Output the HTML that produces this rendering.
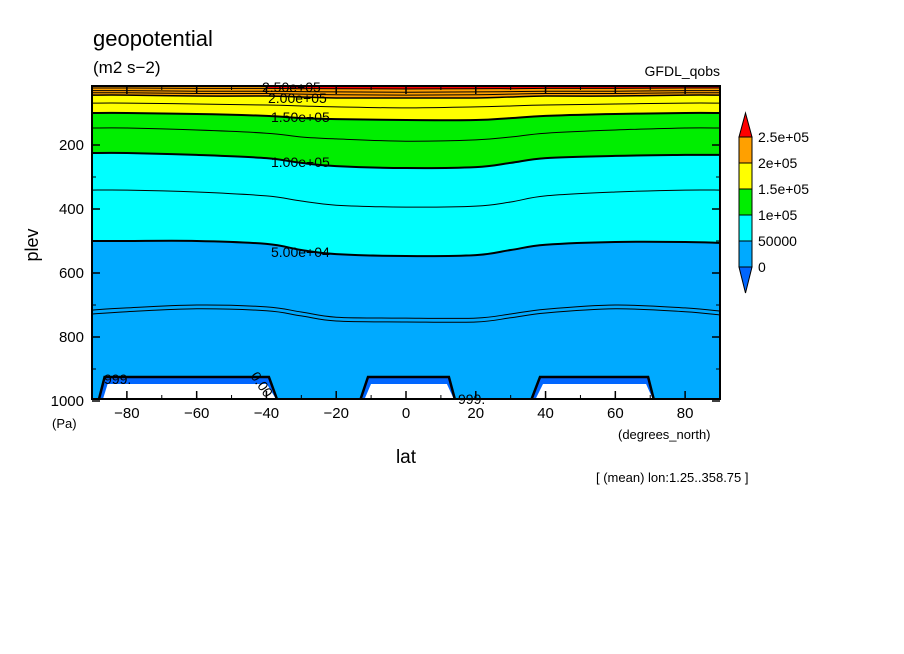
<!DOCTYPE html>
<html><head><meta charset="utf-8"><style>
body{margin:0;background:#fff;}
svg{display:block;font-family:"Liberation Sans",sans-serif;}
</style></head><body>
<svg id="chart" width="904" height="654" viewBox="0 0 904 654">
<text x="93" y="46" font-size="22">geopotential</text>
<text x="93" y="73" font-size="17">(m2 s−2)</text>
<text x="720" y="76" font-size="14" text-anchor="end">GFDL_qobs</text>
<g id="plot"></g>
<g id="axes"></g>
<text transform="translate(38,245) rotate(-90)" font-size="18" text-anchor="middle">plev</text>
<text x="52" y="428" font-size="13">(Pa)</text>
<text x="406" y="463" font-size="19" text-anchor="middle">lat</text>
<text x="618" y="439" font-size="13">(degrees_north)</text>
<text x="596" y="482" font-size="13">[ (mean) lon:1.25..358.75 ]</text>
<g id="cbar"></g>
</svg>
<script>
const lats = [-90,-80,-60,-40,-30,-20,0,20,30,40,60,80,90];
const c237k = [22,22,23,23,24,24,25,24,24,23,23,22,22];
const c225k = [30,30,32,32,33,34,35,34,33,32,32,30,30];
const c212k = [37,37,39,39,41,43,44,43,41,39,39,37,37];
const c200k = [44,44,47,47,50,53,53,53,50,47,47,44,44];
const c175k = [69,69,72,75,78,81,84,81,78,75,72,69,69];
const c150k = [100,100,103,109,116,119,122,122,116,109,103,100,100];
const c125k = [147,147,153,163,175,181,188,184,175,163,153,147,147];
const c100k = [225,225,231,241,256,266,272,269,256,241,234,231,231];
const c75k = [341,341,347,359,375,388,394,391,378,359,347,341,341];
const c50k = [500,500,500,509,528,541,547,544,528,512,503,503,506];
const c25kA = [716,709,700,706,722,738,741,741,728,713,700,709,719];
const c25kB = [728,721,712,718,734,750,753,753,740,725,712,721,731];
const maskTopLat = [[-86.4,-39.3],[-10.9,12.3],[38.4,69.4]];
const maskBotLat = [[-88,-37],[-13,14],[36,71]];
const maskTopP = 925;
const xTicks = [-80,-60,-40,-20,0,20,40,60,80];
const yTicks = [200,400,600,800,1000];
const cbLabels = ["2.5e+05","2e+05","1.5e+05","1e+05","50000","0"];
const cbColors = ["#ff0000","#ffa000","#ffff00","#00ee00","#00ffff","#00aaff","#0066ff"];

const X0=92,X1=720,Y0=86,Y1=399;
const x = l => X0 + (l+90)*(X1-X0)/180;
const y = p => 145 + (p-200)*0.32;
const NS="http://www.w3.org/2000/svg";
const plot=document.getElementById('plot'), axes=document.getElementById('axes'), cb=document.getElementById('cbar');
function mk(tag,attrs,parent){const e=document.createElementNS(NS,tag);for(const k in attrs)e.setAttribute(k,attrs[k]);parent.appendChild(e);return e;}
function smoothPath(arr){
  const P=lats.map((l,i)=>[x(l),y(arr[i])]);
  let d="M"+P[0][0].toFixed(1)+","+P[0][1].toFixed(1);
  for(let i=0;i<P.length-1;i++){
    const p0=P[Math.max(0,i-1)],p1=P[i],p2=P[i+1],p3=P[Math.min(P.length-1,i+2)];
    const c1=[p1[0]+(p2[0]-p0[0])/6,p1[1]+(p2[1]-p0[1])/6];
    const c2=[p2[0]-(p3[0]-p1[0])/6,p2[1]-(p3[1]-p1[1])/6];
    d+=" C"+c1.map(v=>v.toFixed(1)).join(",")+" "+c2.map(v=>v.toFixed(1)).join(",")+" "+p2.map(v=>v.toFixed(1)).join(",");
  }
  return d;
}
function band(arr,color,name){
  const d=smoothPath(arr)+" L"+X1+","+Y0+" L"+X0+","+Y0+" Z";
  const e=mk('path',{d:d,fill:color},plot);
  
  
}
const bg=mk('rect',{x:X0,y:Y0,width:X1-X0,height:Y1-Y0,fill:"#00aaff"},plot);


band(c50k,"#00ffff","band-50000-1e5");
band(c100k,"#00ee00","band-1e5-1.5e5");
band(c150k,"#ffff00","band-1.5e5-2e5");
band(c200k,"#ffa000","band-2e5-2.5e5");
const red=mk('line',{x1:x(-40),y1:Y0+1.5,x2:X1,y2:Y0+1.5,stroke:"#ff0000","stroke-width":2},plot);


const contours=[[c237k,1],[c225k,1],[c212k,1],[c200k,1.5],[c175k,1],[c150k,2],[c125k,1],[c100k,2],[c75k,1],[c50k,2],[c25kA,1],[c25kB,1]];
contours.forEach((c,i)=>{
  const e=mk('path',{d:smoothPath(c[0]),fill:"none",stroke:"#000","stroke-width":c[1]},plot);
  
  
});
maskTopLat.forEach((t,i)=>{
  const b=maskBotLat[i];
  const pts=[[x(b[0]),Y1],[x(t[0]),y(maskTopP)],[x(t[1]),y(maskTopP)],[x(b[1]),Y1]];
  const s=pts.map(p=>p[0].toFixed(1)+","+p[1].toFixed(1)).join(" ");
  const d=mk('polygon',{points:s,fill:"#0066ff"},plot);
  
  
  const w=[[x(b[0])+4,Y1],[x(t[0])+3,y(maskTopP)+7],[x(t[1])-2,y(maskTopP)+7],[x(b[1])-1,Y1]].map(p=>p[0].toFixed(1)+","+p[1].toFixed(1)).join(" ");
  const m=mk('polygon',{points:w,fill:"#fff"},plot);
  
  
  const o=mk('polyline',{points:s,fill:"none",stroke:"#000","stroke-width":2.5},plot);
  
  
});
[["2.50e+05",262,92],["2.00e+05",268,103],["1.50e+05",271,122],["1.00e+05",271,167],["5.00e+04",271,257],["999.",104,384],["999.",458,404]].forEach(a=>{
  const t=mk('text',{x:a[1],y:a[2],"font-size":14},plot);t.textContent=a[0];
  
  
});
const z=mk('text',{transform:"translate(250,376) rotate(55)","font-size":14},plot);z.textContent="0.00";


const fr=mk('rect',{x:X0,y:Y0,width:X1-X0,height:Y1-Y0,fill:"none",stroke:"#000","stroke-width":2},axes);


for(let v=-90;v<=90;v+=10){
  mk('line',{x1:x(v),y1:Y1,x2:x(v),y2:Y1-4,stroke:"#000","stroke-width":1},axes);
  mk('line',{x1:x(v),y1:Y0,x2:x(v),y2:Y0+4,stroke:"#000","stroke-width":1},axes);
}
for(let v=100;v<=1000;v+=100){
  mk('line',{x1:X0,y1:y(v),x2:X0+4,y2:y(v),stroke:"#000","stroke-width":1},axes);
  mk('line',{x1:X1,y1:y(v),x2:X1-4,y2:y(v),stroke:"#000","stroke-width":1},axes);
}
xTicks.forEach(v=>{
  mk('line',{x1:x(v),y1:Y1,x2:x(v),y2:Y1-8,stroke:"#000","stroke-width":1.5},axes);
  mk('line',{x1:x(v),y1:Y0,x2:x(v),y2:Y0+8,stroke:"#000","stroke-width":1.5},axes);
  const t=mk('text',{x:x(v),y:418,"font-size":15,"text-anchor":"middle"},axes);
  t.textContent=v<0?"−"+(-v):v;
  
  
});
yTicks.forEach(v=>{
  mk('line',{x1:X0,y1:y(v),x2:X0+8,y2:y(v),stroke:"#000","stroke-width":1.5},axes);
  mk('line',{x1:X1,y1:y(v),x2:X1-8,y2:y(v),stroke:"#000","stroke-width":1.5},axes);
  const t=mk('text',{x:84,y:y(v)+5,"font-size":15,"text-anchor":"end"},axes);
  t.textContent=v;
  
  
});
const cx=739,cw=13,ch=26,ct=137;
mk('polygon',{points:`${cx},${ct} ${cx+cw/2},${ct-24} ${cx+cw},${ct}`,fill:cbColors[0],stroke:"#000"},cb);
for(let i=1;i<=5;i++) mk('rect',{x:cx,y:ct+(i-1)*ch,width:cw,height:ch,fill:cbColors[i],stroke:"#000"},cb);
const cbot=ct+5*ch;
mk('polygon',{points:`${cx},${cbot} ${cx+cw/2},${cbot+26} ${cx+cw},${cbot}`,fill:cbColors[6],stroke:"#000"},cb);
cbLabels.forEach((s,i)=>{
  const t=mk('text',{x:758,y:ct+i*ch+5,"font-size":14},cb);t.textContent=s;
  
  
});
</script>
</body></html>
